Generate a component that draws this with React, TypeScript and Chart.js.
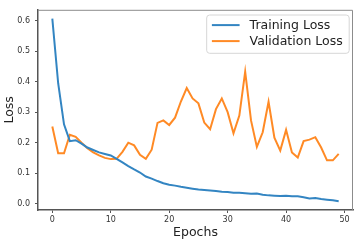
import React, { useEffect, useRef } from "react";
import { Chart, registerables } from "chart.js";

Chart.register(...registerables);

const epochs = [0,1,2,3,4,5,6,7,8,9,10,11,12,13,14,15,16,17,18,19,20,21,22,23,24,25,26,27,28,29,30,31,32,33,34,35,36,37,38,39,40,41,42,43,44,45,46,47,48,49];

const trainingLoss = [0.607,0.395,0.26,0.205,0.208,0.197,0.184,0.176,0.168,0.163,0.158,0.147,0.135,0.123,0.112,0.102,0.089,0.082,0.074,0.067,0.062,0.059,0.055,0.052,0.049,0.046,0.045,0.043,0.041,0.039,0.038,0.036,0.036,0.034,0.032,0.033,0.029,0.027,0.026,0.025,0.026,0.024,0.024,0.021,0.017,0.018,0.015,0.013,0.011,0.008];

const validationLoss = [0.253,0.165,0.165,0.226,0.219,0.2,0.182,0.168,0.158,0.15,0.146,0.147,0.17,0.2,0.191,0.16,0.147,0.177,0.265,0.273,0.258,0.282,0.335,0.379,0.345,0.329,0.266,0.244,0.31,0.345,0.3,0.231,0.289,0.433,0.273,0.186,0.234,0.334,0.216,0.174,0.242,0.168,0.151,0.205,0.21,0.218,0.184,0.142,0.142,0.163];

const xTicks = [0, 10, 20, 30, 40, 50];
const yTicks = [0.0, 0.1, 0.2, 0.3, 0.4, 0.5, 0.6];

const seriesLabels = ["Training Loss", "Validation Loss"];
const seriesColors = ["#3385c2", "#ff8a25"];

const FONT = "'DejaVu Sans', sans-serif";

const framePlugin = {
  id: "frameAndLegend",
  afterDraw(chart: any) {
    const { ctx, chartArea: a } = chart;
    ctx.save();
    // top and right spines
    ctx.strokeStyle = "#8c8c8c";
    ctx.lineWidth = 1;
    ctx.beginPath();
    ctx.moveTo(a.left, a.top + 0.5);
    ctx.lineTo(a.right - 0.5, a.top + 0.5);
    ctx.lineTo(a.right - 0.5, a.bottom);
    ctx.stroke();

    // legend
    const fontSize = 12.5;
    ctx.font = `${fontSize}px ${FONT}`;
    const datasets = chart.data.datasets;
    let maxW = 0;
    datasets.forEach((d: any) => {
      maxW = Math.max(maxW, ctx.measureText(d.label).width);
    });
    const padL = 5.7, lineLen = 27.7, gap = 10, padR = 6;
    const boxW = padL + lineLen + gap + maxW + padR;
    const boxH = 38.3;
    const boxRight = a.right - 4.3;
    const boxTop = a.top + 4.7;
    const boxLeft = boxRight - boxW;
    ctx.beginPath();
    (ctx as any).roundRect(boxLeft + 0.5, boxTop + 0.5, boxW, boxH, 3);
    ctx.fillStyle = "rgba(255,255,255,0.85)";
    ctx.fill();
    ctx.strokeStyle = "#d6d6d6";
    ctx.lineWidth = 1;
    ctx.stroke();
    datasets.forEach((d: any, i: number) => {
      const cy = boxTop + 10.6 + i * 16;
      ctx.strokeStyle = d.borderColor;
      ctx.lineWidth = 2;
      ctx.beginPath();
      ctx.moveTo(boxLeft + padL, cy);
      ctx.lineTo(boxLeft + padL + lineLen, cy);
      ctx.stroke();
      ctx.fillStyle = "#222";
      ctx.textBaseline = "middle";
      ctx.textAlign = "left";
      ctx.fillText(d.label, boxLeft + padL + lineLen + gap, cy + 0.5);
    });
    ctx.restore();
  },
};

export default function App() {
  const ref = useRef<HTMLCanvasElement>(null);

  useEffect(() => {
    document.body.style.margin = "0";
    const canvas = ref.current;
    if (!canvas) return;
    Chart.defaults.font.family = FONT;
    const series = [trainingLoss, validationLoss];
    const chart = new Chart(canvas, {
      type: "line",
      data: {
        datasets: series.map((vals, i) => ({
          label: seriesLabels[i],
          data: epochs.map((e, j) => ({ x: e, y: vals[j] })),
          borderColor: seriesColors[i],
          backgroundColor: seriesColors[i],
          borderWidth: 2,
          pointRadius: 0,
          tension: 0,
          fill: false,
        })),
      },
      options: {
        animation: false,
        responsive: false,
        maintainAspectRatio: false,
        layout: { padding: { top: 2, right: 4, left: 0, bottom: 0 } },
        plugins: {
          legend: { display: false },
          tooltip: { enabled: false },
        },
        scales: {
          x: {
            type: "linear",
            min: -2.45,
            max: 51.45,
            afterBuildTicks: (scale: any) => {
              scale.ticks = xTicks.map((v) => ({ value: v }));
            },
            afterFit: (scale: any) => {
              scale.height = 30;
            },
            grid: {
              display: true,
              drawOnChartArea: false,
              drawTicks: true,
              tickLength: 3,
              tickColor: "#555",
              color: "#555",
            },
            border: { display: true, color: "#555", width: 1.5 },
            ticks: {
              padding: 2,
              color: "#333",
              font: { size: 8 },
              maxRotation: 0,
              callback: (v: any) => String(v),
            },
            title: {
              display: true,
              text: "Epochs",
              color: "#222",
              font: { size: 12.5 },
              padding: { top: 0, bottom: 0 },
            },
          },
          y: {
            type: "linear",
            min: -0.021,
            max: 0.636,
            afterBuildTicks: (scale: any) => {
              scale.ticks = yTicks.map((v) => ({ value: v }));
            },
            afterFit: (scale: any) => {
              scale.width = 38;
            },
            grid: {
              display: true,
              drawOnChartArea: false,
              drawTicks: true,
              tickLength: 3,
              tickColor: "#555",
              color: "#555",
            },
            border: { display: true, color: "#555", width: 1.5 },
            ticks: {
              padding: 5,
              color: "#333",
              font: { size: 8 },
              callback: (v: any) => Number(v).toFixed(1),
            },
            title: {
              display: true,
              text: "Loss",
              color: "#222",
              font: { size: 12.5 },
              padding: { top: 2, bottom: 0 },
            },
          },
        },
      },
      plugins: [framePlugin],
    } as any);
    return () => chart.destroy();
  }, []);

  return (
    <div style={{ width: 357, height: 240, background: "#fff" }}>
      <canvas ref={ref} width={357} height={240} style={{ display: "block" }} />
    </div>
  );
}
